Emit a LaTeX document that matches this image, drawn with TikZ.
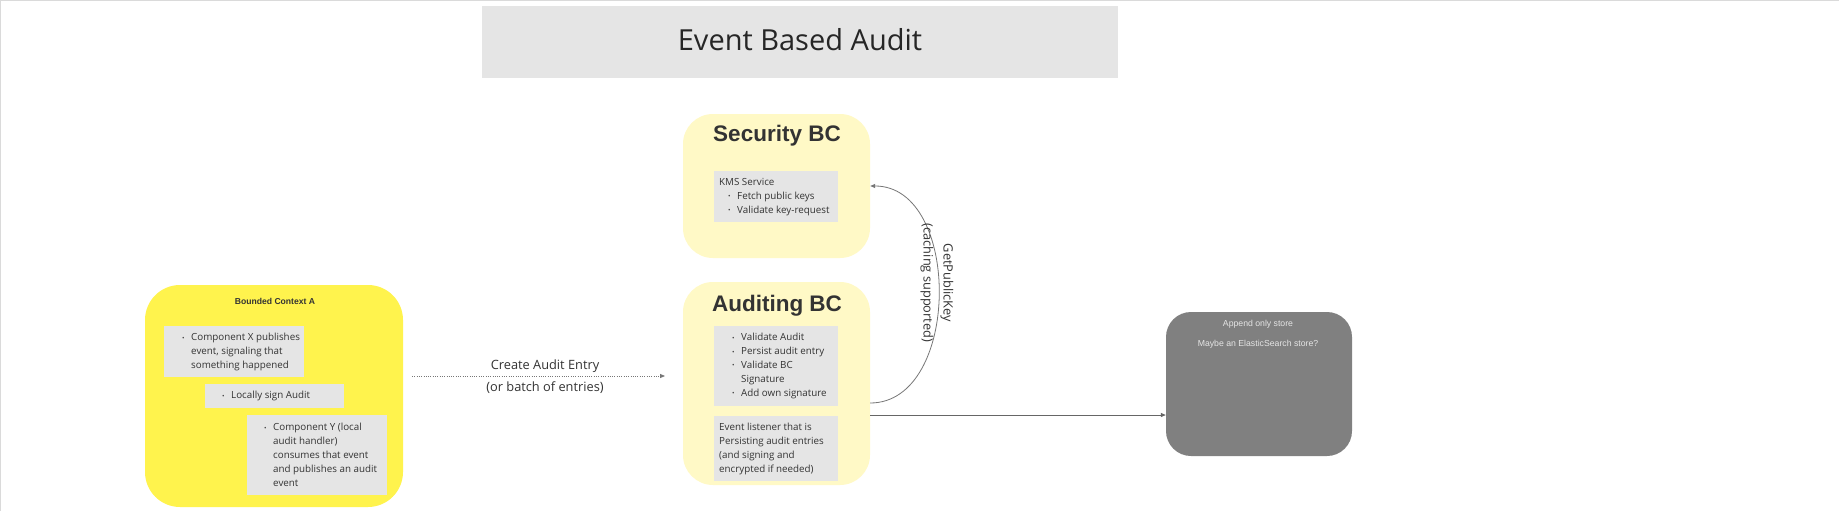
\documentclass[tikz,border=0pt]{standalone}
\usepackage{fontspec}
\setmainfont{Open Sans}
\newfontfamily\arialf{Liberation Sans}
\usetikzlibrary{arrows.meta}
\definecolor{bcayellow}{HTML}{FFF34D}
\definecolor{bcpale}{HTML}{FFF9C6}
\definecolor{boxgray}{HTML}{E5E5E5}
\definecolor{storegray}{HTML}{808080}
\definecolor{txt}{HTML}{333333}
\definecolor{framegray}{HTML}{DADADA}
\definecolor{linegray}{HTML}{777777}
\newcommand{\bu}{\makebox[9pt][l]{\raisebox{0.6pt}{\fontsize{6.5}{6.5}\selectfont •}}}
\newcommand{\ind}{\hspace*{9pt}}
\begin{document}
\begin{tikzpicture}[x=1pt,y=-1pt,
  cont/.style={fill=#1, draw=none, inner sep=0pt},
  gbox/.style={fill=boxgray, draw=none, inner sep=0pt},
  btext/.style={anchor=north west, inner sep=0pt, align=left, text=txt, font=\fontsize{9.8}{13.8}\selectfont},
  bctitle/.style={anchor=base, inner sep=0pt, text=txt, font=\arialf\bfseries\fontsize{22.5}{26}\selectfont},
  lbl/.style={inner sep=0pt, align=center, text=txt, font=\fontsize{12.8}{22}\selectfont},
  storetext/.style={anchor=base, inner sep=0pt, text=white!90!black, font=\arialf\fontsize{8.7}{10}\selectfont},
  flow/.style={-{Triangle[length=5pt,width=4pt]}, line width=0.8pt}
]
\useasboundingbox (0,0) rectangle (1839,511);
\fill[white] (0,0) rectangle (1839,511);
\draw[framegray, line width=1.3pt] (0.7,511) -- (0.7,0.7) -- (1839,0.7);

% title
\node[cont=boxgray, minimum width=636pt, minimum height=72pt] (titlebox) at (800,42) {};
\node[anchor=base, inner sep=0pt, text=black!85, font=\fontsize{29}{34}\selectfont] (titletext) at (800,51) {Event Based Audit};

% Bounded Context A
\node[cont=bcayellow, minimum width=258pt, minimum height=222pt, rounded corners=35pt] (bca) at (274,396) {};
\node[anchor=base, inner sep=0pt, text=txt, font=\arialf\bfseries\fontsize{8.6}{10}\selectfont] (bcatitle) at (275,304) {Bounded Context A};
\node[gbox, minimum width=140pt, minimum height=51pt] (cx) at (234,351.5) {};
\node[btext] (cxt) at (182,333.2) {\bu Component X publishes\\ \ind event, signaling that\\ \ind something happened};
\node[gbox, minimum width=139pt, minimum height=24pt] (ls) at (274.5,396) {};
\node[btext] (lst) at (222,391.2) {\bu Locally sign Audit};
\node[gbox, minimum width=140pt, minimum height=80pt] (cy) at (317,455) {};
\node[btext] (cyt) at (264,423.2) {\bu Component Y (local\\ \ind audit handler)\\ \ind consumes that event\\ \ind and publishes an audit\\ \ind event};

% Security BC
\node[cont=bcpale, minimum width=187pt, minimum height=144pt, rounded corners=30pt] (sec) at (776.5,186) {};
\node[bctitle] (sectitle) at (777,141) {Security BC};
\node[gbox, minimum width=124pt, minimum height=51pt] (kms) at (776,196.5) {};
\node[btext] (kmst) at (719,178.2) {KMS Service\\ \ind\bu Fetch public keys\\ \ind\bu Validate key-request};

% Auditing BC
\node[cont=bcpale, minimum width=187pt, minimum height=203pt, rounded corners=30pt] (aud) at (776.5,383.5) {};
\node[bctitle] (audtitle) at (777,311) {Auditing BC};
\node[gbox, minimum width=124pt, minimum height=80pt] (va) at (776,366) {};
\node[btext] (vat) at (732,333.2) {\bu Validate Audit\\ \bu Persist audit entry\\ \bu Validate BC\\ \ind Signature\\ \bu Add own signature};
\node[gbox, minimum width=124pt, minimum height=65pt] (el) at (776,448.5) {};
\node[btext] (elt) at (719,423.2) {Event listener that is\\ Persisting audit entries\\ (and signing and\\ encrypted if needed)};

% store
\node[cont=storegray, minimum width=186pt, minimum height=144pt, rounded corners=25pt] (store) at (1259,384) {};
\node[storetext] (st1) at (1258,326.5) {Append only store};
\node[storetext] (st2) at (1258,346) {Maybe an ElasticSearch store?};

% connectors
\coordinate (d1) at (412,376);
\coordinate (d2) at (665,376);
\draw[flow, linegray, dash pattern=on 1pt off 1.3pt] (d1) -- (d2);
\node[lbl] (cael) at (545,376.5) {Create Audit Entry\\(or batch of entries)};

\draw[flow, linegray] ([yshift=-19.5pt]aud.east) .. controls (961,403) and (962,186) .. (sec.east);
\node[lbl, rotate=-90, font=\fontsize{12.8}{20}\selectfont] (gpk) at (937,283) {GetPublicKey\\(caching supported)};

\draw[flow, black!60] ([yshift=-31.5pt]aud.east) -- ([yshift=-31.5pt]aud.east -| store.west);
\end{tikzpicture}
\end{document}
